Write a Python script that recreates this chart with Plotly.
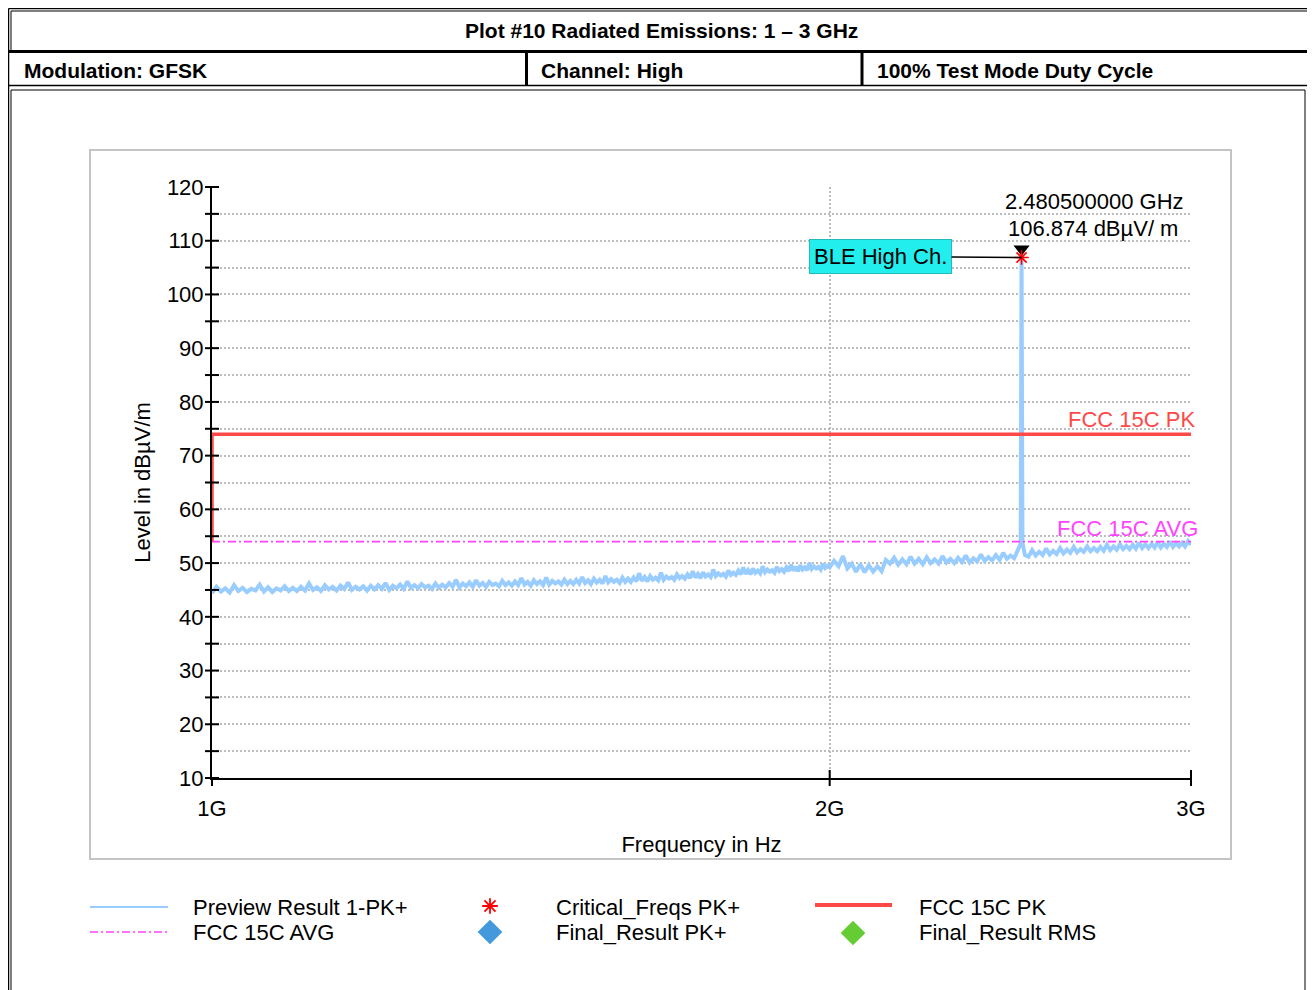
import math
import plotly.graph_objects as go

# ---------------- data ----------------
freq_mhz = [
    1000, 1005, 1010, 1015, 1020, 1025, 1030, 1035, 1040, 1045, 1050, 1055, 1060, 1065, 1070, 1075, 1080, 1085, 1090, 1095,
    1100, 1105, 1110, 1115, 1120, 1125, 1130, 1135, 1140, 1145, 1150, 1155, 1160, 1165, 1170, 1175, 1180, 1185, 1190, 1195,
    1200, 1205, 1210, 1215, 1220, 1225, 1230, 1235, 1240, 1245, 1250, 1255, 1260, 1265, 1270, 1275, 1280, 1285, 1290, 1295,
    1300, 1305, 1310, 1315, 1320, 1325, 1330, 1335, 1340, 1345, 1350, 1355, 1360, 1365, 1370, 1375, 1380, 1385, 1390, 1395,
    1400, 1405, 1410, 1415, 1420, 1425, 1430, 1435, 1440, 1445, 1450, 1455, 1460, 1465, 1470, 1475, 1480, 1485, 1490, 1495,
    1500, 1505, 1510, 1515, 1520, 1525, 1530, 1535, 1540, 1545, 1550, 1555, 1560, 1565, 1570, 1575, 1580, 1585, 1590, 1595,
    1600, 1605, 1610, 1615, 1620, 1625, 1630, 1635, 1640, 1645, 1650, 1655, 1660, 1665, 1670, 1675, 1680, 1685, 1690, 1695,
    1700, 1705, 1710, 1715, 1720, 1725, 1730, 1735, 1740, 1745, 1750, 1755, 1760, 1765, 1770, 1775, 1780, 1785, 1790, 1795,
    1800, 1805, 1810, 1815, 1820, 1825, 1830, 1835, 1840, 1845, 1850, 1855, 1860, 1865, 1870, 1875, 1880, 1885, 1890, 1895,
    1900, 1905, 1910, 1915, 1920, 1925, 1930, 1935, 1940, 1945, 1950, 1955, 1960, 1965, 1970, 1975, 1980, 1985, 1990, 1995,
    2000, 2010, 2020, 2030, 2040, 2050, 2060, 2070, 2080, 2090,
    2100, 2110, 2120, 2130, 2140, 2150, 2160, 2170, 2180, 2190,
    2200, 2210, 2220, 2230, 2240, 2250, 2260, 2270, 2280, 2290,
    2300, 2310, 2320, 2330, 2340, 2350, 2360, 2370, 2380, 2390,
    2400, 2410, 2420, 2430, 2440, 2450, 2460, 2470, 2478, 2480.5, 2483, 2490,
    2500, 2510, 2520, 2530, 2540, 2550, 2560, 2570, 2580, 2590,
    2600, 2610, 2620, 2630, 2640, 2650, 2660, 2670, 2680, 2690,
    2700, 2710, 2720, 2730, 2740, 2750, 2760, 2770, 2780, 2790,
    2800, 2810, 2820, 2830, 2840, 2850, 2860, 2870, 2880, 2890,
    2900, 2910, 2920, 2930, 2940, 2950, 2960, 2970, 2980, 2990,
    3000,
]
preview_level = [
    44.4, 45.6, 44.7, 45.3, 44.5, 45.9, 44.8, 45.4, 44.6, 45.2, 44.9, 46.0, 44.7, 45.5, 44.6, 45.3, 44.9, 45.7, 44.8, 45.4,
    44.8, 45.6, 44.9, 46.2, 45.0, 45.5, 44.8, 45.9, 45.1, 45.6, 44.9, 45.8, 45.2, 46.4, 45.0, 45.6, 45.1, 45.7, 44.9, 45.8,
    45.1, 45.9, 45.2, 46.3, 45.0, 45.8, 45.3, 46.0, 45.2, 46.6, 45.4, 45.9, 45.3, 46.1, 45.5, 45.8, 45.2, 46.2, 45.4, 46.0,
    45.5, 46.3, 45.6, 46.9, 45.5, 46.2, 45.7, 46.4, 45.6, 46.8, 45.8, 46.3, 45.6, 46.5, 45.9, 46.2, 45.7, 46.7, 45.9, 46.4,
    45.8, 46.6, 45.9, 47.2, 46.0, 46.5, 45.8, 46.8, 46.1, 46.6, 45.9, 47.3, 46.0, 46.7, 46.2, 46.6, 46.0, 46.9, 46.1, 46.7,
    46.1, 46.9, 46.2, 47.4, 46.3, 46.8, 46.1, 47.1, 46.4, 46.9, 46.2, 47.6, 46.4, 47.0, 46.5, 46.9, 46.3, 47.3, 46.5, 47.1,
    46.5, 47.3, 46.6, 48.1, 46.7, 47.4, 46.6, 47.6, 46.9, 47.3, 46.8, 48.2, 46.9, 47.5, 47.1, 47.4, 46.9, 47.9, 47.2, 47.6,
    47.1, 47.9, 47.2, 48.5, 47.3, 48.0, 47.2, 48.3, 47.5, 47.9, 47.4, 48.8, 47.6, 48.1, 47.7, 48.0, 47.5, 48.6, 47.8, 48.2,
    47.8, 48.6, 47.9, 49.2, 48.0, 48.7, 47.9, 49.0, 48.2, 48.6, 48.1, 49.4, 48.3, 48.8, 48.4, 48.7, 48.2, 49.3, 48.5, 48.9,
    48.4, 49.2, 48.5, 49.7, 48.6, 49.3, 48.5, 49.6, 48.8, 49.2, 48.7, 50.0, 48.9, 49.4, 49.0, 49.3, 48.8, 49.9, 49.1, 49.5,
    49.2, 50.4, 49.4, 51.3, 49.0, 49.9, 48.4, 49.8, 48.3, 49.6,
    48.4, 49.4, 48.5, 50.6, 49.9, 51.0, 49.7, 50.7, 49.8, 51.2,
    49.9, 50.8, 49.8, 51.1, 50.0, 50.7, 49.9, 51.3, 50.1, 50.8,
    50.0, 51.0, 50.2, 51.4, 50.1, 50.9, 50.3, 51.6, 50.4, 51.1,
    50.5, 51.5, 50.6, 51.9, 50.8, 51.4, 50.9, 52.4, 53.6, 106.874, 53.8, 51.5,
    51.2, 52.4, 51.4, 52.1, 51.5, 52.7, 51.6, 52.3, 51.7, 52.8,
    51.8, 52.5, 51.9, 53.0, 52.0, 52.6, 52.1, 53.1, 52.2, 52.8,
    52.2, 53.0, 52.3, 53.4, 52.4, 53.1, 52.5, 53.5, 52.6, 53.2,
    52.6, 53.4, 52.7, 53.8, 52.8, 53.5, 52.8, 53.6, 52.9, 53.9,
    52.9, 53.6, 53.0, 54.0, 53.0, 53.7, 53.1, 53.8, 53.1, 54.1,
    53.4,
]
pk_limit_freq_mhz = [1000, 1000, 3000]
pk_limit_level = [54, 74, 74]
avg_limit_freq_mhz = [1000, 3000]
avg_limit_level = [54, 54]
critical_freq_mhz = [2480.5]
critical_level = [106.874]
marker_label = "BLE High Ch."
marker_freq_text = "2.480500000 GHz"
marker_level_text = "106.874 dBµV/ m"

x_tick_vals_hz = [1e9, 2e9, 3e9]
x_tick_text = ["1G", "2G", "3G"]
y_major_ticks = [10, 20, 30, 40, 50, 60, 70, 80, 90, 100, 110, 120]
y_minor_ticks = [15, 25, 35, 45, 55, 65, 75, 85, 95, 105, 115]

title_text = "Plot #10 Radiated Emissions: 1 \u2013 3 GHz"
header_cells = ["Modulation: GFSK", "Channel: High", "100% Test Mode Duty Cycle"]
legend_names = ["Preview Result 1-PK+", "FCC 15C AVG", "Critical_Freqs PK+",
                "Final_Result PK+", "FCC 15C PK", "Final_Result RMS"]

# ---------------- layout geometry (page pixels) ----------------
OFF = 8                       # default body margin of the html page
PAGE_W, PAGE_H = 1315, 990
W, H = PAGE_W - OFF, PAGE_H - OFF
PL, PR, PT, PB = 212, 1191, 187, 778   # plot area in page pixels
FONT = "Liberation Sans, Arial, Helvetica, sans-serif"
HFONT = "Liberation Sans, Arial, Helvetica, sans-serif"

BLUE = "#99ccff"
RED = "#ff4848"
MAG = "#ff44ff"
GRID = "#bcbcbc"


def ypix(v):
    return PB - (v - 10) / 110.0 * (PB - PT)


def xpix(f_hz):
    return PL + math.log10(f_hz / 1e9) / math.log10(3) * (PR - PL)


fig = go.Figure()

# main traces
fig.add_trace(go.Scatter(
    x=[f * 1e6 for f in freq_mhz], y=preview_level, mode="lines",
    line=dict(color=BLUE, width=4), name=legend_names[0],
    xaxis="x", yaxis="y", showlegend=False))
fig.add_trace(go.Scatter(
    x=[f * 1e6 for f in avg_limit_freq_mhz], y=avg_limit_level, mode="lines",
    line=dict(color=MAG, width=1.6, dash="8px,3px,2px,3px"), name=legend_names[1],
    xaxis="x", yaxis="y", showlegend=False))
fig.add_trace(go.Scatter(
    x=[f * 1e6 for f in pk_limit_freq_mhz], y=pk_limit_level, mode="lines",
    line=dict(color=RED, width=3.5), name=legend_names[4],
    xaxis="x", yaxis="y", showlegend=False, cliponaxis=False))
fig.add_trace(go.Scatter(
    x=[f * 1e6 for f in critical_freq_mhz], y=[v + 1.6 for v in critical_level],
    mode="markers", marker=dict(symbol="triangle-down", size=14, color="black"),
    xaxis="x", yaxis="y", showlegend=False, cliponaxis=False, hoverinfo="skip"))
fig.add_trace(go.Scatter(
    x=[f * 1e6 for f in critical_freq_mhz], y=critical_level, mode="markers",
    marker=dict(symbol="asterisk-open", size=12, color="red", line=dict(color="red", width=1.6)),
    name=legend_names[2], xaxis="x", yaxis="y", showlegend=False, cliponaxis=False))

# legend symbols (page pixel overlay axes)
LROW1, LROW2 = 907, 932
fig.add_trace(go.Scatter(x=[90, 168], y=[LROW1, LROW1], mode="lines",
                         line=dict(color=BLUE, width=2), xaxis="x2", yaxis="y2",
                         showlegend=False, hoverinfo="skip"))
fig.add_trace(go.Scatter(x=[90, 168], y=[LROW2, LROW2], mode="lines",
                         line=dict(color=MAG, width=1.6, dash="8px,3px,2px,3px"),
                         xaxis="x2", yaxis="y2", showlegend=False, hoverinfo="skip"))
fig.add_trace(go.Scatter(x=[490], y=[LROW1 - 1], mode="markers",
                         marker=dict(symbol="asterisk-open", size=13, color="red",
                                     line=dict(color="red", width=1.8)),
                         xaxis="x2", yaxis="y2", showlegend=False, hoverinfo="skip"))
fig.add_trace(go.Scatter(x=[490], y=[LROW2], mode="markers",
                         marker=dict(symbol="diamond", size=19, color="#4499dd"),
                         xaxis="x2", yaxis="y2", showlegend=False, hoverinfo="skip"))
fig.add_trace(go.Scatter(x=[815, 892], y=[LROW1 - 2, LROW1 - 2], mode="lines",
                         line=dict(color=RED, width=4), xaxis="x2", yaxis="y2",
                         showlegend=False, hoverinfo="skip"))
fig.add_trace(go.Scatter(x=[853], y=[LROW2 + 1], mode="markers",
                         marker=dict(symbol="diamond", size=19, color="#66cc33"),
                         xaxis="x2", yaxis="y2", showlegend=False, hoverinfo="skip"))

shapes = []
annotations = []


def line(x0, y0, x1, y1, color="black", width=1, layer="above"):
    shapes.append(dict(type="line", xref="x2", yref="y2", x0=x0, y0=y0, x1=x1, y1=y1,
                       line=dict(color=color, width=width), layer=layer))


def text(x, y, s, size=22, color="black", family=FONT, xanchor="left", bold=False):
    annotations.append(dict(xref="x2", yref="y2", x=x, y=y, text=("<b>%s</b>" % s) if bold else s,
                            showarrow=False, xanchor=xanchor, yanchor="middle",
                            font=dict(size=size, color=color, family=family)))


# header table
line(8.5, 8.5, 1312, 8.5, width=1.5)
line(8.5, 8.5, 8.5, 990, width=1.5)
line(1312, 8.5, 1312, 990, width=1.5)
line(11, 11, 1308, 11)
line(11, 11, 11, 51)
line(1308, 11, 1308, 990)
line(8, 51.5, 1308, 51.5, width=3)
line(526.5, 51, 526.5, 86, width=3)
line(862, 51, 862, 86, width=3)
line(8, 85.5, 1308, 85.5, width=1.5)
line(11, 90, 1305, 90)
line(11, 90, 11, 990)
line(1305, 90, 1305, 990)
text(661, 30, title_text, size=21, family=HFONT, xanchor="center", bold=True)
text(22, 70, header_cells[0], size=21, family=HFONT, bold=True)
text(539, 70, header_cells[1], size=21, family=HFONT, bold=True)
text(875, 70, header_cells[2], size=21, family=HFONT, bold=True)

# chart frame
shapes.append(dict(type="rect", xref="x2", yref="y2", x0=90, y0=150, x1=1231, y1=859,
                   line=dict(color="#c4c4c4", width=2), layer="below"))

# crossing ticks
for v in y_major_ticks + y_minor_ticks:
    line(PL - 7, ypix(v), PL + 7, ypix(v), width=2)
for f in x_tick_vals_hz[1:]:
    line(xpix(f), PB - 8, xpix(f), PB + 8, width=2)
line(PL, PB, PL, PB + 8, width=2)

# limit labels
annotations.append(dict(xref="x", yref="y", x=math.log10(3e9), y=pk_limit_level[-1],
                        text="FCC 15C PK", showarrow=False, xanchor="right", yanchor="bottom",
                        xshift=6, yshift=0, font=dict(size=22, color=RED, family=FONT)))
annotations.append(dict(xref="x", yref="y", x=math.log10(3e9), y=avg_limit_level[-1],
                        text="FCC 15C AVG", showarrow=False, xanchor="right", yanchor="bottom",
                        xshift=9, yshift=-1, font=dict(size=22, color=MAG, family=FONT)))

# marker readout
text(1186, 201, marker_freq_text, xanchor="right")
text(1093, 228, marker_level_text, xanchor="center")
annotations.append(dict(xref="x", yref="y", x=math.log10(critical_freq_mhz[0] * 1e6),
                        y=critical_level[0], text=marker_label, showarrow=True,
                        arrowhead=0, arrowwidth=1.5, arrowcolor="black", ax=-141, ay=-1,
                        standoff=0, bgcolor="#22eeee", bordercolor="#22bbbb", borderwidth=1,
                        borderpad=4, font=dict(size=22, color="black", family=FONT)))

# legend texts
text(191, LROW1, legend_names[0])
text(191, LROW2, legend_names[1])
text(554, LROW1, legend_names[2])
text(554, LROW2, legend_names[3])
text(917, LROW1, legend_names[4])
text(917, LROW2, legend_names[5])

tickfont = dict(size=22, color="black", family=FONT)
fig.update_layout(
    width=W, height=H,
    margin=dict(l=0, r=0, t=0, b=0),
    paper_bgcolor="white", plot_bgcolor="rgba(0,0,0,0)",
    showlegend=False,
    xaxis=dict(type="log", domain=[(PL - OFF) / W, (PR - OFF) / W], range=[9, math.log10(3e9)],
               tickvals=x_tick_vals_hz, ticktext=x_tick_text, tickfont=tickfont,
               ticks="outside", ticklen=10, tickcolor="rgba(0,0,0,0)",
               showgrid=True, gridcolor=GRID, griddash="2px,2px", gridwidth=1.5,
               showline=True, linecolor="black", linewidth=2, zeroline=False,
               anchor="y", automargin=False,
               title=dict(text="Frequency in Hz", font=tickfont, standoff=16)),
    yaxis=dict(domain=[1 - (PB - OFF) / H, 1 - (PT - OFF) / H], range=[10, 120],
               tickvals=y_major_ticks, tickfont=tickfont,
               ticks="outside", ticklen=2, tickcolor="rgba(0,0,0,0)",
               showgrid=True, gridcolor=GRID, griddash="2px,2px", gridwidth=1.5,
               minor=dict(tickvals=y_minor_ticks, showgrid=True, gridcolor=GRID,
                          griddash="2px,2px", gridwidth=1.5),
               showline=True, linecolor="black", linewidth=2, zeroline=False,
               anchor="x", automargin=False,
               title=dict(text="Level in dBµV/m", font=tickfont, standoff=10)),
    xaxis2=dict(domain=[0, 1], range=[OFF, PAGE_W], visible=False, anchor="y2", fixedrange=True),
    yaxis2=dict(domain=[0, 1], range=[PAGE_H, OFF], visible=False, anchor="x2", fixedrange=True),
    shapes=shapes,
    annotations=annotations,
)

fig.write_html("out.html")
